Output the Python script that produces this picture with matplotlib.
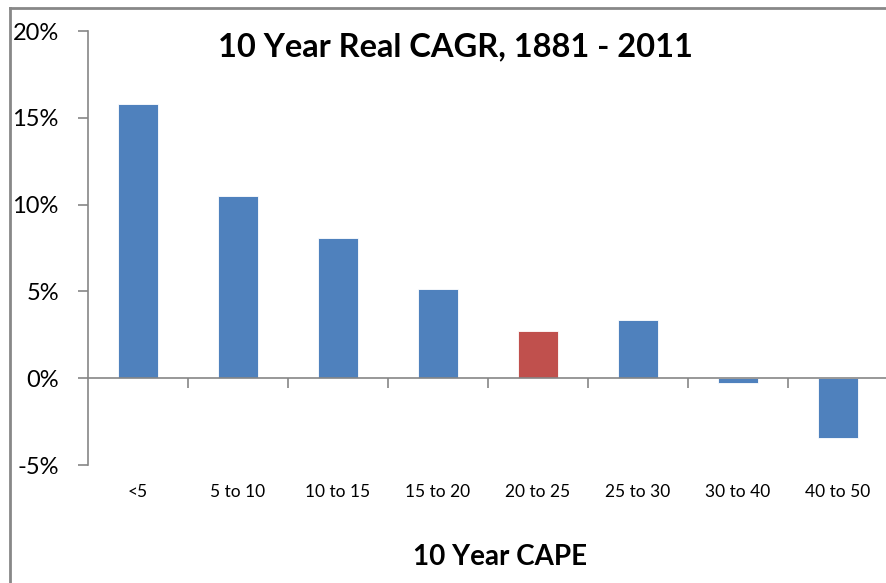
import numpy as np
import matplotlib
matplotlib.use('Agg')
import matplotlib.pyplot as plt
from matplotlib.lines import Line2D

#data
cape_bins = ['<5', '5 to 10', '10 to 15', '15 to 20', '20 to 25', '25 to 30', '30 to 40', '40 to 50']
cagr = [15.8, 10.5, 8.05, 5.15, 2.7, 3.35, -0.3, -3.45]
bar_colors = ['#4F81BD'] * 4 + ['#C0504D'] + ['#4F81BD'] * 3
y_ticks = [-5, 0, 5, 10, 15, 20]

plt.rcParams['font.family'] = ['Lato', 'DejaVu Sans']
axis_grey = '#868686'

fig = plt.figure(figsize=(8.86, 5.83), dpi=100)
W, H = 886, 583
ax = fig.add_axes([88 / W, 1 - 465 / H, 800 / W, (465 - 31) / H])

x = np.arange(len(cape_bins))
ax.bar(x, cagr, width=0.4, color=bar_colors, edgecolor='white', linewidth=0.6, zorder=2)

ax.set_xlim(-0.5, len(cape_bins) - 0.5)
ax.set_ylim(-5, 20)
ax.set_yticks(y_ticks)
ax.set_yticklabels([f'{v}%' for v in y_ticks], fontsize=17, color='black')

# category boundaries as ticks on the zero line
ax.set_xticks(np.arange(0.5, len(cape_bins) - 0.5, 1.0))
ax.set_xticklabels([])
for xi, lab in zip(x, cape_bins):
    ax.text(xi, -0.062, lab, transform=ax.get_xaxis_transform(), ha='center', va='center', fontsize=12.5)

ax.spines['top'].set_visible(False)
ax.spines['right'].set_visible(False)
ax.spines['bottom'].set_position(('data', 0))
for s in ['left', 'bottom']:
    ax.spines[s].set_color(axis_grey)
    ax.spines[s].set_linewidth(1.2)
ax.tick_params(axis='y', direction='out', length=7, color=axis_grey, width=1.2, pad=14)
ax.tick_params(axis='x', direction='out', length=7, color=axis_grey, width=1.2)

fig.text(455 / W, 1 - 47 / H, '10 Year Real CAGR, 1881 - 2011', ha='center', va='center',
         fontsize=23.5, fontweight='bold')
fig.text(500 / W, 1 - 557 / H, '10 Year CAPE', ha='center', va='center',
         fontsize=20, fontweight='bold')

# outer chart frame, only the top and left edges are visible
fig.add_artist(Line2D([10 / W, 10 / W], [0, 1 - 8 / H], color='#888888', linewidth=2))
fig.add_artist(Line2D([10 / W, 1], [1 - 8 / H, 1 - 8 / H], color='#888888', linewidth=2))

fig.savefig('out.png', dpi=100)
